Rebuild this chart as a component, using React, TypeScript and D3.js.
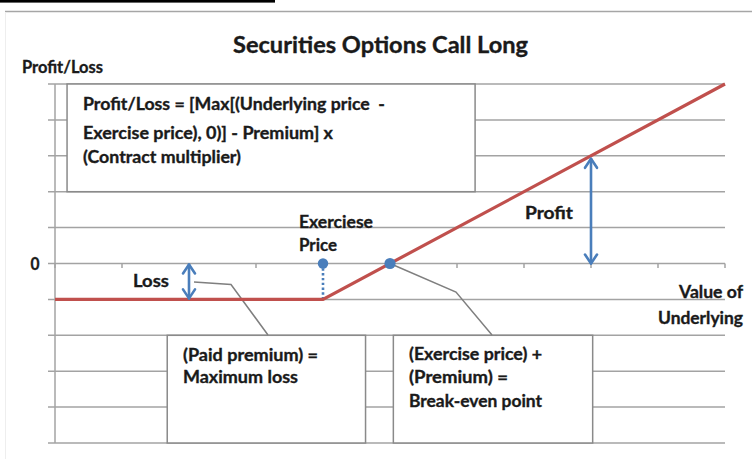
import React from 'react';
import * as d3 from 'd3';

// ---------------- data ----------------
const priceTicks = [0, 1, 2, 3, 4, 5, 6, 7, 8, 9, 10];
const profitGrid = [-5, -4, -3, -2, -1, 0, 1, 2, 3, 4, 5];
const payoffPrices = [0, 4, 10];
const payoffValues = [-1, -1, 5];
const exercisePrice = 4;
const premium = 1;
const breakEvenPrice = exercisePrice + premium;
const profitPrice = 8;
const lossPrice = 2;
const yTickLabels = ['0'];
const titleText = 'Securities Options Call Long';
const yAxisTitle = 'Profit/Loss';
const xAxisTitle = ['Value of', 'Underlying'];
const exerciseLabel = ['Exerciese', 'Price'];
const formulaLines = [
  'Profit/Loss = [Max[(Underlying price  -',
  'Exercise price), 0)] - Premium] x',
  '(Contract multiplier)',
];
const maxLossLines = ['(Paid premium) =', 'Maximum loss'];
const breakEvenLines = ['(Exercise price) +', '(Premium) =', 'Break-even point'];

// ---------------- layout ----------------
const W = 752;
const H = 459;
const FONT = "Lato, 'Open Sans', 'DejaVu Sans', sans-serif";
const TEXT = '#1a1a1a';
const GRID = '#a3a3a3';
const BOX = '#8a8a8a';
const RED = '#c0504d';
const BLUE = '#4a7ebb';
const LEADER = '#7f7f7f';

const x = d3.scaleLinear().domain([0, 10]).range([55, 725]);
const y = d3.scaleLinear().domain([-5, 5]).range([443, 84]);

type Lbl = { t: string; x: number; y: number; w: number; s: number; anchor?: 'start' | 'end' | 'middle' };

const Label = ({ t, x: lx, y: ly, w, s, anchor = 'start' }: Lbl) => (
  <text
    x={lx}
    y={ly}
    fontFamily={FONT}
    fontWeight={700}
    fontSize={s}
    fill={TEXT}
    stroke={TEXT}
    strokeWidth={0.35}
    textAnchor={anchor}
    textLength={w}
    lengthAdjust="spacingAndGlyphs"
    style={{ whiteSpace: 'pre' }}
  >
    {t}
  </text>
);

const BODY = 17.3;

function DoubleArrow({ px, y1, y2 }: { px: number; y1: number; y2: number }) {
  const hw = 6;
  const hh = 9;
  return (
    <g stroke={BLUE} strokeWidth={2.6} fill="none" strokeLinecap="round" strokeLinejoin="round">
      <line x1={px} x2={px} y1={y1} y2={y2} />
      <path d={`M${px - hw},${y1 + hh}L${px},${y1}L${px + hw},${y1 + hh}`} />
      <path d={`M${px - hw},${y2 - hh}L${px},${y2}L${px + hw},${y2 - hh}`} />
    </g>
  );
}

export default function App() {
  const line = d3
    .line<number>()
    .x((_, i) => x(payoffPrices[i]))
    .y((d) => y(d));

  const boxes = [
    { x0: 0.18, x1: 6.27, y0: 2, y1: 5 },
    { x0: 1.675, x1: 4.635, y0: -5, y1: -2 },
    { x0: 5.05, x1: 8.025, y0: -5, y1: -2 },
  ];

  const lossLeader = d3.line()([
    [194, 282],
    [231, 284.5],
    [268, 335],
  ]);
  const beLeader = d3.line()([
    [x(breakEvenPrice), y(0)],
    [456, 292],
    [492, 335],
  ]);

  return (
    <svg
      width={W}
      height={H}
      viewBox={`0 0 ${W} ${H}`}
      style={{ position: 'absolute', left: 0, top: 0, background: '#fff' }}
    >
      {/* frame decorations */}
      <rect x={0} y={0} width={275} height={2.6} fill="#000" />
      <line x1={5} x2={W} y1={11.5} y2={11.5} stroke="#a6a6a6" strokeWidth={1.6} />
      <line x1={5.5} x2={5.5} y1={12} y2={H} stroke="#eeeeee" strokeWidth={1} />

      {/* gridlines */}
      {profitGrid.map((v) => (
        <line key={v} x1={48} x2={x(10)} y1={y(v)} y2={y(v)} stroke={GRID} strokeWidth={1.5} />
      ))}
      {/* y axis */}
      <line x1={x(0)} x2={x(0)} y1={y(5)} y2={y(-5)} stroke={GRID} strokeWidth={1.5} />
      {/* x ticks */}
      {priceTicks.map((v) => (
        <line key={v} x1={x(v)} x2={x(v)} y1={y(0)} y2={y(0) + 4.5} stroke={GRID} strokeWidth={1.5} />
      ))}

      {/* boxes */}
      {boxes.map((b, i) => (
        <rect
          key={i}
          x={x(b.x0)}
          y={y(b.y1)}
          width={x(b.x1) - x(b.x0)}
          height={y(b.y0) - y(b.y1)}
          fill="#fff"
          stroke={BOX}
          strokeWidth={1.5}
        />
      ))}

      {/* leader lines */}
      <path d={lossLeader || ''} fill="none" stroke={LEADER} strokeWidth={1.5} />
      <path d={beLeader || ''} fill="none" stroke={LEADER} strokeWidth={1.5} />

      {/* dotted exercise line */}
      <line
        x1={x(exercisePrice)}
        x2={x(exercisePrice)}
        y1={y(0)}
        y2={y(-premium)}
        stroke={BLUE}
        strokeWidth={2.6}
        strokeDasharray="2.4 2.4"
      />

      {/* payoff */}
      <path d={line(payoffValues) || ''} fill="none" stroke={RED} strokeWidth={3.2} strokeLinejoin="miter" />

      {/* points */}
      <circle cx={x(exercisePrice)} cy={y(0)} r={5.2} fill={BLUE} />
      <circle cx={x(breakEvenPrice)} cy={y(0)} r={5.6} fill={BLUE} />

      {/* arrows */}
      <DoubleArrow px={x(profitPrice)} y1={y(profitPrice - exercisePrice - premium) + 3} y2={y(0)} />
      <DoubleArrow px={x(lossPrice)} y1={y(0) + 1} y2={y(-premium) - 1} />

      {/* texts */}
      <Label t={titleText} x={233} y={53.3} w={295} s={22.3} />
      <Label t={yAxisTitle} x={22} y={72.7} w={81} s={BODY} />
      <Label t={yTickLabels[0]} x={35} y={270} w={9} s={BODY} anchor="middle" />

      <Label t={formulaLines[0]} x={83} y={110} w={302} s={BODY} />
      <Label t={formulaLines[1]} x={83} y={139.3} w={250} s={BODY} />
      <Label t={formulaLines[2]} x={83} y={162.7} w={158} s={BODY} />

      <Label t={exerciseLabel[0]} x={299} y={228.3} w={74} s={BODY} />
      <Label t={exerciseLabel[1]} x={299} y={251} w={38} s={BODY} />
      <Label t="Loss" x={133} y={286.7} w={36} s={BODY} />
      <Label t="Profit" x={525} y={219.3} w={48} s={BODY} />

      <Label t={xAxisTitle[0]} x={743} y={298.3} w={64} s={BODY} anchor="end" />
      <Label t={xAxisTitle[1]} x={743} y={324} w={85} s={BODY} anchor="end" />

      <Label t={maxLossLines[0]} x={183} y={361} w={135} s={BODY} />
      <Label t={maxLossLines[1]} x={183} y={382.7} w={115} s={BODY} />

      <Label t={breakEvenLines[0]} x={409} y={360} w={133} s={BODY} />
      <Label t={breakEvenLines[1]} x={409} y={383.3} w={99} s={BODY} />
      <Label t={breakEvenLines[2]} x={409} y={406.7} w={133} s={BODY} />
    </svg>
  );
}
